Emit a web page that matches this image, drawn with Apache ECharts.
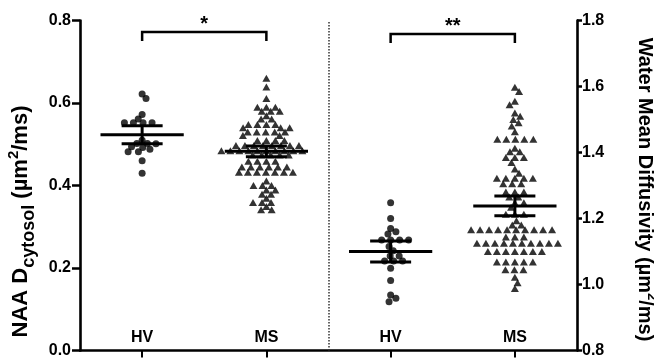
<!DOCTYPE html>
<html>
<head>
<meta charset="utf-8">
<script src="https://cdn.jsdelivr.net/npm/echarts@6/dist/echarts.min.js"></script>
<style>
html, body { margin: 0; padding: 0; background: #fff; }
#box1 { width: 654px; height: 361px; }
</style>
</head>
<body>
<div id="box1"></div>
<script>
// groups along the x axis
var categories = ['HV', 'MS', 'HV', 'MS'];

// NAA D_cytosol (left axis)
var naaHV = [0.622, 0.611, 0.572, 0.561, 0.552, 0.552, 0.552, 0.552, 0.510, 0.502,
  0.502, 0.501, 0.494, 0.492, 0.488, 0.482, 0.482, 0.460, 0.430];
var naaMS = [0.660, 0.639, 0.611,
  0.590, 0.590, 0.590, 0.580, 0.580, 0.580, 0.569, 0.561, 0.561,
  0.548, 0.548, 0.548, 0.548, 0.540, 0.540, 0.540,
  0.530, 0.530, 0.530, 0.530, 0.530, 0.521, 0.521,
  0.509, 0.509, 0.509, 0.509,
  0.497, 0.497, 0.497, 0.497, 0.497, 0.497, 0.497, 0.497,
  0.484, 0.484, 0.484, 0.484, 0.484, 0.484, 0.484, 0.484, 0.484, 0.484,
  0.474, 0.474, 0.474, 0.474, 0.474, 0.459, 0.459, 0.459, 0.459,
  0.445, 0.445, 0.445, 0.445, 0.445, 0.445,
  0.432, 0.432, 0.432, 0.432, 0.432, 0.432, 0.432,
  0.411, 0.400, 0.400, 0.400, 0.389, 0.389, 0.379, 0.379, 0.369,
  0.359, 0.359, 0.359, 0.349, 0.341, 0.341];

// water mean diffusivity (right axis)
var waterHV = [1.248, 1.200, 1.170, 1.160, 1.153, 1.135, 1.135, 1.135, 1.135,
  1.115, 1.102, 1.086, 1.086, 1.071, 1.071, 1.071, 1.049, 1.012, 0.968, 0.958, 0.948];
var waterMS = [1.598, 1.585, 1.555, 1.545, 1.520, 1.510, 1.500, 1.490, 1.480, 1.463,
  1.440, 1.440, 1.440, 1.440, 1.440, 1.413, 1.402, 1.402, 1.385, 1.385, 1.385,
  1.370, 1.350, 1.337, 1.322, 1.322, 1.322, 1.322, 1.322,
  1.305, 1.305, 1.305, 1.280, 1.280, 1.280, 1.265, 1.265, 1.248, 1.248,
  1.234, 1.213, 1.213, 1.213, 1.193, 1.180, 1.180,
  1.166, 1.166, 1.166, 1.166, 1.166, 1.166, 1.166, 1.166, 1.166, 1.166,
  1.144, 1.144, 1.144,
  1.125, 1.125, 1.125, 1.125, 1.125, 1.125, 1.125, 1.125, 1.125, 1.125,
  1.100, 1.100, 1.100, 1.100, 1.100, 1.100, 1.100,
  1.068, 1.068, 1.068, 1.068, 1.068, 1.045, 1.045, 1.045, 1.022, 1.005, 0.988];

// mean +/- SEM per group, as drawn
var groupMeans = [0.523, 0.483, 1.100, 1.238];
var groupSems = [0.022, 0.013, 0.032, 0.030];

// significance brackets
var bracketFrom = [0, 2];
var bracketTo = [1, 3];
var bracketLevel = [0.772, 0.767];
var bracketText = ['*', '**'];

var FONT = '"Liberation Sans", Arial, Helvetica, sans-serif';
var chart = echarts.init(document.getElementById('box1'));

function renderMean(params, api) {
  var x = api.value(0), m = api.value(1), s = api.value(2);
  var c = api.coord([x, m]);
  var up = api.coord([x, m + s])[1];
  var lo = api.coord([x, m - s])[1];
  var band = api.size([1, 0])[0];
  var wMean = band * 0.335, wSem = band * 0.165;
  function seg(x1, y1, x2, y2) {
    return { type: 'line', shape: { x1: x1, y1: y1, x2: x2, y2: y2 },
      style: { stroke: '#000', lineWidth: 3 } };
  }
  return { type: 'group', children: [
    seg(c[0] - wMean, c[1], c[0] + wMean, c[1]),
    seg(c[0] - wSem, up, c[0] + wSem, up),
    seg(c[0] - wSem, lo, c[0] + wSem, lo),
    seg(c[0], up, c[0], lo)
  ] };
}

function renderBracket(params, api) {
  var a = api.coord([api.value(0), api.value(2)]);
  var b = api.coord([api.value(1), api.value(2)]);
  var drop = 9;
  return { type: 'group', children: [
    { type: 'polyline', shape: { points: [[a[0], a[1] + drop], a, b, [b[0], b[1] + drop]] },
      style: { stroke: '#000', lineWidth: 2.5, fill: null } },
    { type: 'text', x: (a[0] + b[0]) / 2, y: a[1] + 2,
      style: { text: bracketText[params.dataIndex], fill: '#000', font: 'bold 20px ' + FONT,
        align: 'center', verticalAlign: 'bottom' } }
  ] };
}

var axisLine = { show: true, onZero: false, lineStyle: { color: '#000', width: 2.6 } };
var tickLabel = { color: '#000', fontSize: 16, fontWeight: 'bold', fontFamily: FONT };

var option = {
  animation: false,
  grid: { left: 80, right: 77, top: 20.5, bottom: 10.5, containLabel: false, outerBoundsMode: 'none' },
  xAxis: [{
    type: 'category',
    data: categories,
    axisLine: axisLine,
    axisTick: { show: true, alignWithLabel: true, length: 7, lineStyle: { color: '#000', width: 2 } },
    axisLabel: Object.assign({ inside: true, margin: 5 }, tickLabel),
    splitLine: { show: false }
  }, {
    type: 'value', min: -0.5, max: 3.5, show: false
  }],
  yAxis: [{
    type: 'value', position: 'left', min: 0, max: 0.8, interval: 0.2,
    axisLine: axisLine,
    axisTick: { show: true, length: 8, lineStyle: { color: '#000', width: 2.5 } },
    axisLabel: Object.assign({ margin: 9, formatter: function (v) { return v.toFixed(1); } }, tickLabel),
    splitLine: { show: false },
    name: 'NAA D{sub|cytosol} (µm{sup|2}/ms)',
    nameLocation: 'middle', nameRotate: 90, nameGap: 46,
    nameTextStyle: {
      color: '#000', fontSize: 22, fontWeight: 'bold', fontFamily: FONT, padding: [0, 72, 0, 0],
      rich: {
        sub: { fontSize: 18, fontWeight: 'bold', fontFamily: FONT, color: '#000', verticalAlign: 'bottom', lineHeight: 14, padding: [0, 0, -6, 0] },
        sup: { fontSize: 15, fontWeight: 'bold', fontFamily: FONT, color: '#000', verticalAlign: 'top', lineHeight: 14, padding: [-3, 0, 0, 0] }
      }
    }
  }, {
    type: 'value', position: 'right', min: 0.8, max: 1.8, interval: 0.2,
    axisLine: axisLine,
    axisTick: { show: true, length: 5, lineStyle: { color: '#000', width: 2.5 } },
    axisLabel: Object.assign({ margin: 5, formatter: function (v) { return v.toFixed(1); } }, tickLabel),
    splitLine: { show: false },
    name: 'Water Mean Diffusivity (µm{sup|2}/ms)',
    nameLocation: 'middle', nameRotate: -90, nameGap: 58,
    nameTextStyle: {
      color: '#000', fontSize: 20, fontWeight: 'bold', fontFamily: FONT, padding: [0, 0, 0, 8],
      rich: {
        sup: { fontSize: 13, fontWeight: 'bold', fontFamily: FONT, color: '#000', verticalAlign: 'top', lineHeight: 12, padding: [-3, 0, 0, 0] }
      }
    }
  }],
  series: []
};
chart.setOption(option);

// beeswarm spread, in pixels, from the laid-out axes;
// close rows are allowed to interleave like GraphPad does
function swarm(values, yIndex, centre) {
  var DX = 9, DYM = 8;
  var pxPerX = chart.convertToPixel({ xAxisIndex: 1 }, 1) - chart.convertToPixel({ xAxisIndex: 1 }, 0);
  var pts = values.map(function (v) { return { v: v, y: chart.convertToPixel({ yAxisIndex: yIndex }, v), x: 0 }; });
  pts.sort(function (a, b) { return a.y - b.y; });
  var placed = [];
  var side = 1;
  function need(q, y) {
    var dy = Math.abs(q.y - y);
    return dy >= DYM ? 0 : DX * (1 - dy / DYM);
  }
  pts.forEach(function (p) {
    var cands = [0];
    placed.forEach(function (q) {
      var r = need(q, p.y);
      if (r > 0) cands.push(q.x + r, q.x - r);
    });
    cands.sort(function (a, b) { return (Math.abs(a) - a * side * 1e-4) - (Math.abs(b) - b * side * 1e-4); });
    for (var i = 0; i < cands.length; i++) {
      var c = cands[i];
      var ok = placed.every(function (q) { return Math.abs(q.x - c) >= need(q, p.y) - 0.01; });
      if (ok) { p.x = c; break; }
    }
    if (p.x !== 0) side = -side;
    placed.push(p);
  });
  return placed.map(function (p) { return [centre + p.x / pxPerX, p.v]; });
}

function dots(name, values, yIndex, centre, symbol, size) {
  return {
    name: name, type: 'scatter', xAxisIndex: 1, yAxisIndex: yIndex,
    symbol: symbol, symbolSize: size, z: 2,
    itemStyle: { color: '#000' },
    data: swarm(values, yIndex, centre)
  };
}

var series = [
  dots('HV', naaHV, 0, 0, 'circle', 7),
  dots('MS', naaMS, 0, 1, 'triangle', [8, 7]),
  dots('HV', waterHV, 1, 2, 'circle', 7),
  dots('MS', waterMS, 1, 3, 'triangle', [8, 7]),
  {
    type: 'custom', xAxisIndex: 1, yAxisIndex: 0, z: 5, renderItem: renderMean,
    data: [[0, groupMeans[0], groupSems[0]], [1, groupMeans[1], groupSems[1]]]
  },
  {
    type: 'custom', xAxisIndex: 1, yAxisIndex: 1, z: 5, renderItem: renderMean,
    data: [[2, groupMeans[2], groupSems[2]], [3, groupMeans[3], groupSems[3]]]
  },
  {
    type: 'custom', xAxisIndex: 1, yAxisIndex: 0, z: 5, renderItem: renderBracket,
    data: bracketLevel.map(function (lv, i) { return [bracketFrom[i], bracketTo[i], lv]; }),
    markLine: {
      silent: true, symbol: ['none', 'none'], label: { show: false },
      lineStyle: { color: '#333', width: 1.5, type: 'dotted' },
      data: [{ xAxis: 1.5 }]
    }
  }
];
chart.setOption({ series: series });
</script>
</body>
</html>
